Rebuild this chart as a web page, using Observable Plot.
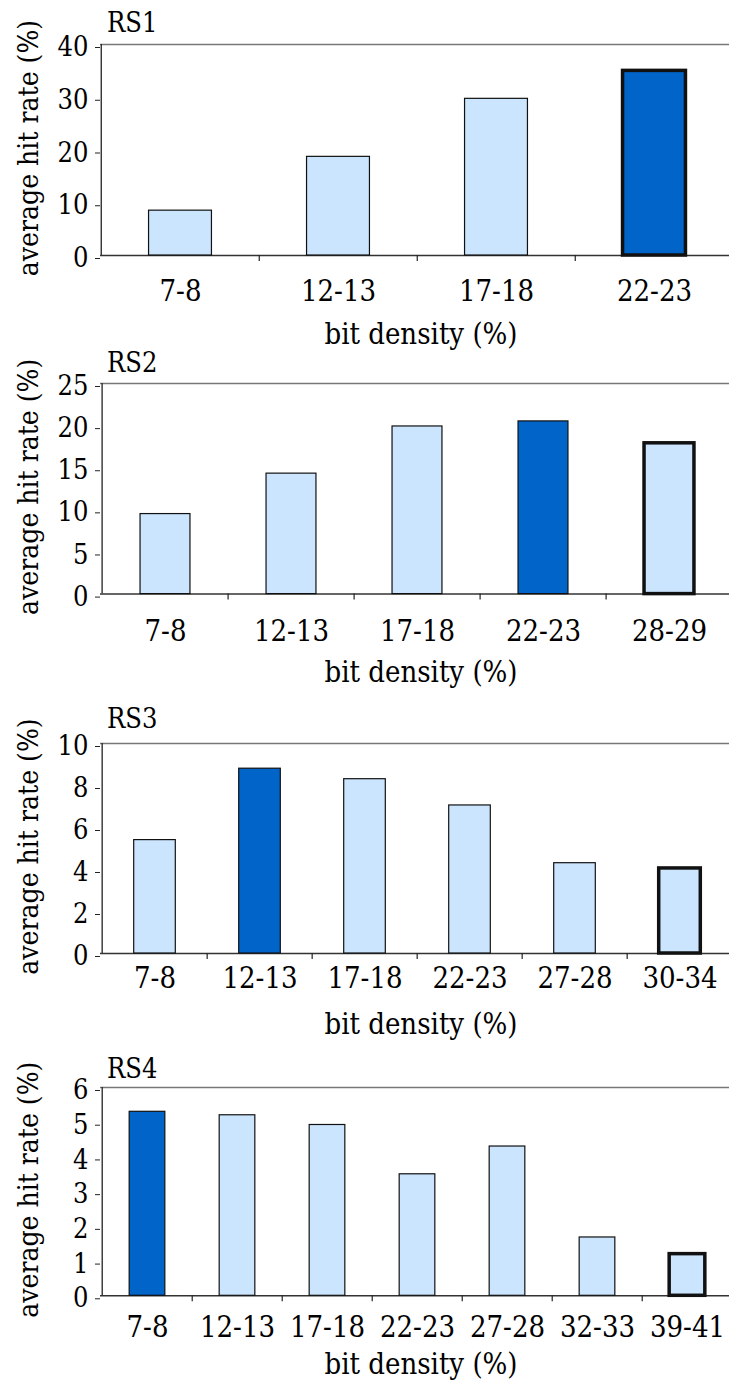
<!DOCTYPE html>
<html>
<head>
<meta charset="utf-8">
<script src="https://cdn.jsdelivr.net/npm/d3@7"></script>
<script src="https://cdn.jsdelivr.net/npm/@observablehq/plot@0.6"></script>
<style>
  html, body { margin: 0; padding: 0; background: #fff; overflow: hidden; }
  #charts { position: relative; width: 729px; height: 1385px; }
  #charts > svg { position: absolute; left: 0; background: transparent !important; font-stretch: condensed; }
</style>
</head>
<body>
<div id="charts"></div>
<script>
// Bit-density bins and average hit rates (%) for each rule set
const rs1Bins = ["7-8", "12-13", "17-18", "22-23"];
const rs1Rates = [8.5, 18.7, 29.7, 35.0];
const rs1Ticks = [0, 10, 20, 30, 40];

const rs2Bins = ["7-8", "12-13", "17-18", "22-23", "28-29"];
const rs2Rates = [9.5, 14.3, 19.9, 20.5, 17.9];
const rs2Ticks = [0, 5, 10, 15, 20, 25];

const rs3Bins = ["7-8", "12-13", "17-18", "22-23", "27-28", "30-34"];
const rs3Rates = [5.4, 8.8, 8.3, 7.05, 4.3, 4.05];
const rs3Ticks = [0, 2, 4, 6, 8, 10];

const rs4Bins = ["7-8", "12-13", "17-18", "22-23", "27-28", "32-33", "39-41"];
const rs4Rates = [5.3, 5.2, 4.92, 3.5, 4.3, 1.68, 1.2];
const rs4Ticks = [0, 1, 2, 3, 4, 5, 6];

const panelNames = ["RS1", "RS2", "RS3", "RS4"];
// bin with the best hit rate, and the bin of the rule set's own density
const peakBins = ["22-23", "22-23", "12-13", "7-8"];
const outlinedBins = ["22-23", "28-29", "30-34", "39-41"];

const xTitle = "bit density (%)";
const yTitle = "average hit rate (%)";

const panels = [
  {bins: rs1Bins, rates: rs1Rates, ticks: rs1Ticks},
  {bins: rs2Bins, rates: rs2Rates, ticks: rs2Ticks},
  {bins: rs3Bins, rates: rs3Rates, ticks: rs3Ticks},
  {bins: rs4Bins, rates: rs4Rates, ticks: rs4Ticks}
];

// page layout of each panel: frame top, frame height, label offsets
const layout = [
  {top: 44.3,   h: 211,   tick: 45.4, title: 88,   name: 12.6},
  {top: 382.7,  h: 210.6, tick: 47.4, title: 88.4, name: 11},
  {top: 743.3,  h: 210,   tick: 34,   title: 80,   name: 16},
  {top: 1086.7, h: 208.3, tick: 41.7, title: 78,   name: 9}
];

const W = 729, ML = 100, MT = 50, MB = 100, XR = 734;
const DARK = "#0064c8", LIGHT = "#cce5ff", INK = "#111";
const FONT = "'DejaVu Serif Condensed', 'DejaVu Serif', serif";
const host = document.getElementById("charts");

panels.forEach((p, i) => {
  const L = layout[i];
  const n = p.bins.length;
  const step = (XR - ML) / n;
  const rows = p.bins.map((b, j) => ({
    bin: b,
    rate: p.rates[j],
    peak: b === peakBins[i],
    outlined: b === outlinedBins[i]
  }));
  const barOpts = {
    x: "bin", y: "rate",
    fill: d => d.peak ? DARK : LIGHT,
    stroke: INK,
    insetLeft: step * 0.3, insetRight: step * 0.3
  };

  const svg = Plot.plot({
    width: W,
    height: MT + L.h + MB,
    marginLeft: ML, marginRight: 0, marginTop: MT, marginBottom: MB,
    style: {fontFamily: FONT, fontSize: "28px", color: "#000", background: "transparent"},
    x: {type: "band", domain: p.bins, range: [ML, XR], padding: 0, axis: null},
    y: {domain: [0, p.ticks[p.ticks.length - 1]]},
    color: {type: "identity"},
    marks: [
      // top border of the plot area
      Plot.ruleY([p.ticks[p.ticks.length - 1]], {stroke: "#777", strokeWidth: 1.6}),
      // vertical axis line
      Plot.ruleX([p.bins[0]], {dx: -step / 2, stroke: "#222", strokeWidth: 1.3}),
      // baseline
      Plot.ruleY([0], {stroke: "#333", strokeWidth: 1.5}),
      // ticks between bins, below the baseline
      Plot.ruleX(p.bins.slice(1), {dx: -step / 2, insetTop: L.h, insetBottom: -6, stroke: "#222", strokeWidth: 1.2}),
      Plot.axisY(p.ticks, {tickSize: 5, tickPadding: 7, dy: 3, label: null, stroke: "#222", fill: "#000", fontSize: 27}),
      Plot.barY(rows, {...barOpts, filter: d => !d.outlined, strokeWidth: 1.2}),
      Plot.barY(rows, {...barOpts, filter: d => d.outlined, strokeWidth: 3.5}),
      // bin labels
      Plot.text(p.bins, {x: d => d, text: d => d, frameAnchor: "bottom", lineAnchor: "bottom", dy: L.tick, fontSize: 29, fill: "#000"}),
      // axis titles and panel name
      Plot.text([xTitle], {frameAnchor: "bottom", lineAnchor: "bottom", textAnchor: "middle", dx: 6, dy: L.title, fontSize: 29, fill: "#000"}),
      Plot.text([yTitle], {frameAnchor: "left", rotate: -90, textAnchor: "middle", lineAnchor: "bottom", dx: -63, dy: -2, fontSize: 28, fill: "#000"}),
      Plot.text([panelNames[i]], {frameAnchor: "top-left", textAnchor: "start", lineAnchor: "bottom", dx: 6.5, dy: -L.name, fontSize: 27, fill: "#000"})
    ]
  });
  svg.style.top = (L.top - MT) + "px";
  host.appendChild(svg);
});
</script>
</body>
</html>
